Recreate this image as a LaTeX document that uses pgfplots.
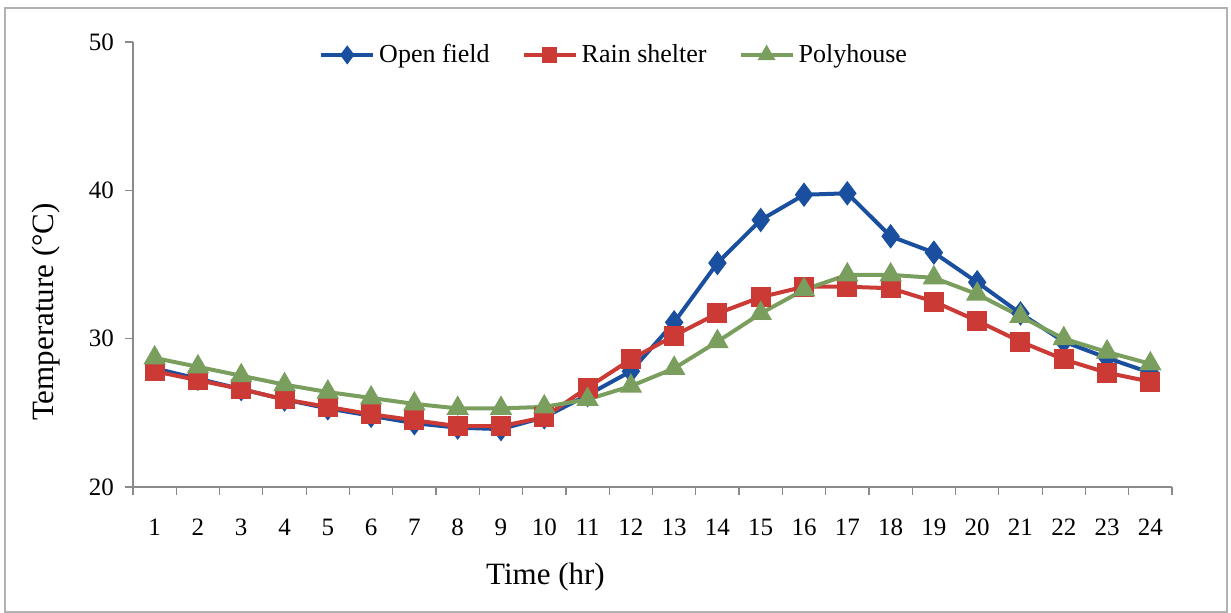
\documentclass[border=0pt]{standalone}
\usepackage{fontspec}
\setmainfont{Liberation Serif}
\usepackage{pgfplots}
\pgfplotsset{compat=1.18}
\usetikzlibrary{calc}
\definecolor{cblue}{HTML}{1A4FA0}
\definecolor{cred}{HTML}{CC3A36}
\definecolor{cgreen}{HTML}{7A9E5E}
\definecolor{axgray}{HTML}{8A8A8A}
\begin{document}
\begin{tikzpicture}
\begin{axis}[
  name=ax, scale only axis, width=519.5pt, height=222.5pt,
  xmin=0.5, xmax=24.5, ymin=20, ymax=50,
  axis lines*=left,
  axis line style={axgray, line width=0.8pt},
  xtick={1,...,24}, major x tick style={draw=none},
  minor xtick={0.5,1.5,...,24.5},
  ytick={20,30,40,50},
  tick align=outside, major tick length=4pt, minor tick length=4pt,
  tick style={axgray, line width=0.6pt},
  ticklabel style={font=\fontsize{12.5}{14}\selectfont},
  xticklabel style={yshift=-8.5pt},
  yticklabel style={xshift=-2pt},
  /pgf/number format/assume math mode=true,
  legend columns=3,
  legend style={at={(rel axis cs:0.464,0.971)}, anchor=center, draw=none, fill=none,
    font=\fontsize{13}{15}\selectfont,
    /tikz/every even column/.append style={column sep=14pt}},
  legend image code/.code={\draw[/tikz/every mark/.append style={scale=0.7},mark repeat=2,mark phase=2,#1] plot coordinates {(0pt,0pt)(13pt,0pt)(26pt,0pt)};},
  every axis plot/.append style={line width=2pt},
]
\addplot[cblue, mark=diamond*, mark size=4.5pt, mark options={solid}] coordinates {
(1,28.0)(2,27.3)(3,26.6)(4,25.9)(5,25.3)(6,24.8)(7,24.3)(8,24.0)(9,23.9)(10,24.7)
(11,26.2)(12,27.8)(13,31.1)(14,35.1)(15,38.0)(16,39.7)(17,39.8)(18,36.9)(19,35.8)(20,33.8)
(21,31.7)(22,29.8)(23,28.7)(24,27.7)};
\addlegendentry{Open field}
\addplot[cred, mark=square*, mark size=4pt, mark options={solid}] coordinates {
(1,27.8)(2,27.2)(3,26.6)(4,25.9)(5,25.4)(6,24.9)(7,24.5)(8,24.1)(9,24.1)(10,24.7)
(11,26.7)(12,28.6)(13,30.2)(14,31.7)(15,32.8)(16,33.5)(17,33.5)(18,33.4)(19,32.5)(20,31.2)
(21,29.8)(22,28.6)(23,27.7)(24,27.1)};
\addlegendentry{Rain shelter}
\addplot[cgreen, mark=triangle*, mark size=4.5pt, mark options={solid}] coordinates {
(1,28.7)(2,28.1)(3,27.5)(4,26.9)(5,26.4)(6,26.0)(7,25.6)(8,25.3)(9,25.3)(10,25.4)
(11,25.9)(12,26.8)(13,28.0)(14,29.8)(15,31.7)(16,33.3)(17,34.3)(18,34.3)(19,34.1)(20,33.0)
(21,31.5)(22,30.0)(23,29.1)(24,28.3)};
\addlegendentry{Polyhouse}
\end{axis}
\coordinate (yl) at ($(ax.south west)!0.393!(ax.north west)$);
\node[rotate=90, font=\fontsize{15.5}{17}\selectfont] at ([xshift=-43.5pt]yl) {Temperature (°C)};
\coordinate (xl) at ($(ax.south west)!0.397!(ax.south east)$);
\node[font=\fontsize{15.5}{17}\selectfont] at ([yshift=-45pt]xl) {Time (hr)};
\draw[gray!60, line width=0.8pt] ([shift={(-64pt,-62.5pt)}]ax.south west) rectangle ([shift={(27.5pt,17pt)}]ax.north east);
\pgfresetboundingbox
\path[use as bounding box] ([shift={(-66.5pt,-63pt)}]ax.south west) rectangle ([shift={(29.5pt,21pt)}]ax.north east);
\end{tikzpicture}
\end{document}
